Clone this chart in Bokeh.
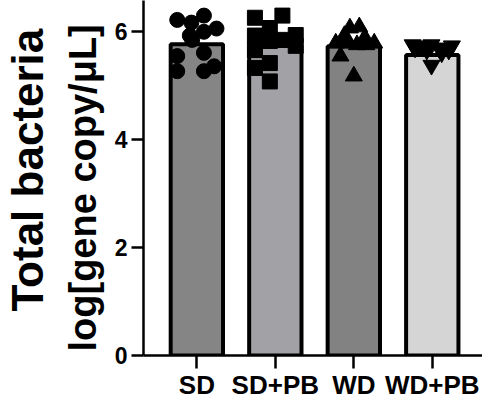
from bokeh.plotting import figure
from bokeh.models import Range1d, FixedTicker, Title
from bokeh.embed import file_html
from bokeh.resources import INLINE

groups = ["SD", "SD+PB", "WD", "WD+PB"]
bar_means = [5.77, 5.74, 5.73, 5.57]
bar_colors = ["#858585", "#a2a2a6", "#828282", "#d5d5d5"]
markers = ["circle", "square", "triangle", "inverted_triangle"]

sd_vals = [6.22, 6.30, 6.17, 6.06, 6.00, 5.93, 5.85, 5.61, 5.55, 5.27, 5.27, 5.36]
sd_jit = [-0.25, 0.09, -0.07, 0.25, 0.09, -0.09, -0.06, 0.09, -0.25, -0.25, 0.09, 0.22]
sdpb_vals = [6.26, 6.30, 6.07, 5.93, 5.94, 5.83, 5.85, 5.74, 5.66, 5.42, 5.08, 5.33]
sdpb_jit = [-0.26, 0.09, -0.07, -0.26, 0.26, -0.07, 0.09, 0.26, -0.26, -0.07, -0.07, -0.26]
wd_vals = [6.07, 6.09, 5.93, 5.89, 5.79, 5.79, 5.76, 5.55, 5.18, 5.79, 5.76, 5.83]
wd_jit = [-0.05, 0.07, -0.12, 0.14, -0.23, 0.26, 0.04, -0.17, 0.0, -0.06, 0.16, -0.11]
wdpb_vals = [5.76, 5.74, 5.76, 5.70, 5.74, 5.38, 5.61, 5.66, 5.70, 5.66]
wdpb_jit = [-0.25, -0.16, -0.01, 0.12, 0.25, -0.01, 0.12, -0.07, -0.22, 0.21]

all_vals = [sd_vals, sdpb_vals, wd_vals, wdpb_vals]
all_jit = [sd_jit, sdpb_jit, wd_jit, wdpb_jit]
y_ticks = [0, 2, 4, 6]
ylabel1 = "Total bacteria"
ylabel2 = "log[gene copy/\u03bcL]"

FONT = "Liberation Sans"

p = figure(width=482, height=402, output_backend="svg", toolbar_location=None,
           x_range=Range1d(0.32, 4.64), y_range=Range1d(0, 6.58),
           min_border_left=132, min_border_right=0, min_border_top=0,
           min_border_bottom=40)
p.outline_line_color = None
p.xgrid.visible = False
p.ygrid.visible = False
p.background_fill_color = "white"

xs = list(range(1, len(groups) + 1))
p.vbar(x=xs, top=bar_means, width=0.667, bottom=0, fill_color=bar_colors,
       line_color="black", line_width=4)

for i, (vals, jit, mk) in enumerate(zip(all_vals, all_jit, markers)):
    px = [xs[i] + j for j in jit]
    size = 15 if mk in ("circle", "square") else 17
    p.scatter(x=px, y=vals, marker=mk, size=size, fill_color="black",
              line_color="black")

for ax in (p.xaxis[0], p.yaxis[0]):
    ax.axis_line_width = 2.5
    ax.major_tick_line_width = 2.5
    ax.minor_tick_line_color = None
    ax.major_label_text_font = FONT
    ax.major_label_text_font_style = "bold"
    ax.major_label_text_color = "black"
    ax.axis_line_color = "black"
    ax.major_tick_line_color = "black"

p.yaxis.ticker = FixedTicker(ticks=y_ticks)
p.yaxis.major_tick_out = 12
p.yaxis.major_tick_in = 0
p.yaxis.major_label_standoff = 4
p.yaxis.major_label_text_font_size = "23px"

p.xaxis.ticker = FixedTicker(ticks=xs)
p.xaxis.major_label_overrides = {x: g for x, g in zip(xs, groups)}
p.xaxis.major_tick_out = 13
p.xaxis.major_tick_in = 0
p.xaxis.major_label_standoff = 1
p.xaxis.major_label_text_font_size = "26px"

t2 = Title(text=ylabel2, align="left", text_font=FONT, text_font_style="bold",
           text_font_size="38px", text_color="black", standoff=16, offset=4)
t1 = Title(text=ylabel1, align="left", text_font=FONT, text_font_style="bold",
           text_font_size="44px", text_color="black", standoff=0, offset=44)
p.add_layout(t2, "left")
p.add_layout(t1, "left")

open("out.html", "w").write(file_html(p, INLINE))
